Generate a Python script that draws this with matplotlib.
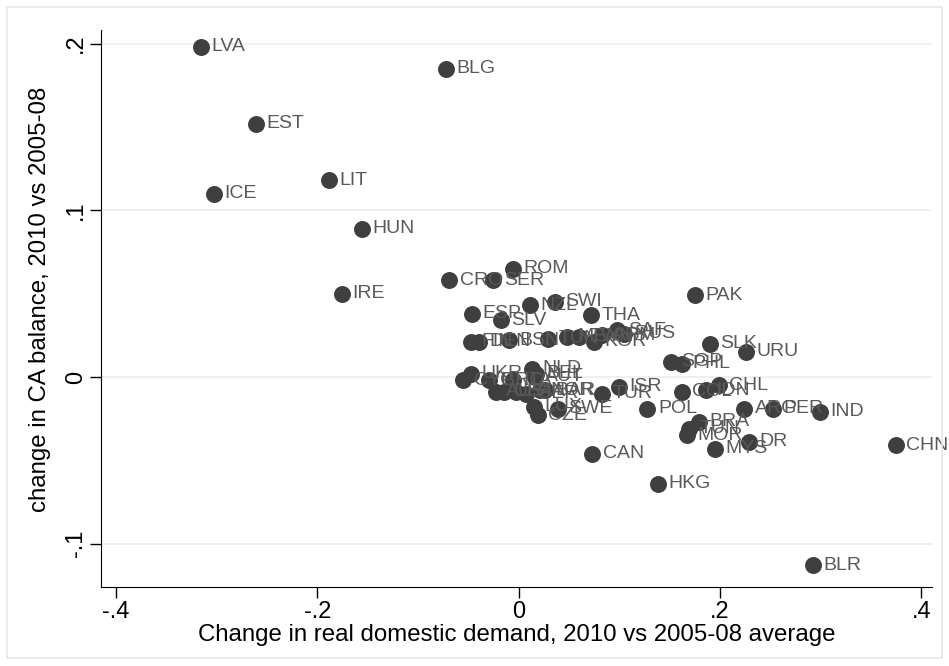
import numpy as np
import matplotlib.pyplot as plt
from matplotlib.patches import Rectangle

plt.rcParams['font.family'] = ['Liberation Sans', 'DejaVu Sans']

# data: change in real domestic demand (x) vs change in CA balance (y)
countries = ["LVA", "BLG", "EST", "ICE", "LIT", "HUN", "IRE", "CRO", "SER", "ROM",
             "ESP", "SLV", "NZL", "SWI", "THA",
             "FIN", "DEN", "BSN", "TUN", "MEX", "TWN", "KOR", "ARM", "SAF", "RUS",
             "CYP", "UKR", "GRC", "AUS", "USA", "ITA", "FRA", "GER", "AUT", "NLD", "BEL", "NOR", "BAR",
             "LUX", "SWE", "CZE", "TUR", "ISR", "CAN", "HKG", "POL",
             "COL", "IDN", "CHL", "SGP", "PHL", "SLK", "URU", "PAK",
             "ARG", "PER", "IND", "CHN", "BLR", "DR", "MYS", "BRA", "TUN2", "MOR"]
x_dd = [-0.316, -0.072, -0.261, -0.303, -0.188, -0.156, -0.176, -0.069, -0.025, -0.006,
        -0.046, -0.018, 0.011, 0.036, 0.072,
        -0.047, -0.039, -0.010, 0.029, 0.048, 0.060, 0.075, 0.083, 0.098, 0.105,
        -0.055, -0.047, -0.029, -0.023, -0.015, -0.006, -0.003, 0.007, 0.016, 0.013, 0.017, 0.021, 0.026,
        0.015, 0.039, 0.019, 0.083, 0.100, 0.073, 0.138, 0.128,
        0.162, 0.186, 0.199, 0.151, 0.162, 0.190, 0.226, 0.175,
        0.224, 0.253, 0.299, 0.375, 0.292, 0.229, 0.195, 0.179, 0.169, 0.167]
y_ca = [0.198, 0.185, 0.152, 0.110, 0.118, 0.089, 0.050, 0.058, 0.058, 0.065,
        0.038, 0.034, 0.043, 0.045, 0.037,
        0.021, 0.021, 0.022, 0.023, 0.024, 0.024, 0.021, 0.025, 0.028, 0.026,
        -0.002, 0.002, -0.002, -0.009, -0.009, -0.002, -0.009, -0.010, 0.000, 0.005, 0.002, -0.008, -0.008,
        -0.018, -0.019, -0.023, -0.010, -0.006, -0.046, -0.064, -0.019,
        -0.009, -0.008, -0.005, 0.009, 0.008, 0.020, 0.015, 0.049,
        -0.019, -0.019, -0.021, -0.041, -0.113, -0.039, -0.043, -0.027, -0.031, -0.035]
labels = [c[:3] for c in countries]

fig = plt.figure(figsize=(9.49, 6.66), dpi=100)
fig.patches.append(Rectangle((0.007, 0.012), 0.986, 0.978, transform=fig.transFigure,
                             fill=False, edgecolor='#e6e6e6', linewidth=1.2))
ax = fig.add_axes([0.1064, 0.1186, 0.876, 0.836])

ax.scatter(x_dd, y_ca, s=125, color='#3f3f3f', zorder=3)
for lab, xv, yv in zip(labels, x_dd, y_ca):
    ax.annotate(lab, (xv, yv), xytext=(7.5, 0), textcoords='offset points',
                va='center', ha='left', fontsize=14, color='#595959', zorder=4,
                annotation_clip=False)

ax.set_xlim(-0.415, 0.411)
ax.set_ylim(-0.126, 0.208)
ax.set_xticks([-0.4, -0.2, 0, 0.2, 0.4])
ax.set_xticklabels(['-.4', '-.2', '0', '.2', '.4'])
ax.set_yticks([-0.1, 0, 0.1, 0.2])
ax.set_yticklabels(['-.1', '0', '.1', '.2'], rotation=90, va='center')
ax.tick_params(axis='both', direction='out', length=8, width=1, labelsize=17,
               colors='black', pad=2)
ax.grid(axis='y', color='#ececec', linewidth=1.2, zorder=0)
ax.set_axisbelow(True)
for side in ['top', 'right']:
    ax.spines[side].set_visible(False)

ax.set_xlabel('Change in real domestic demand, 2010 vs 2005-08 average', fontsize=17.3, labelpad=1)
ax.set_ylabel('change in CA balance, 2010 vs 2005-08', fontsize=17.3)
ax.yaxis.set_label_coords(-0.06, 0.517)

plt.savefig('out.png', dpi=100)
